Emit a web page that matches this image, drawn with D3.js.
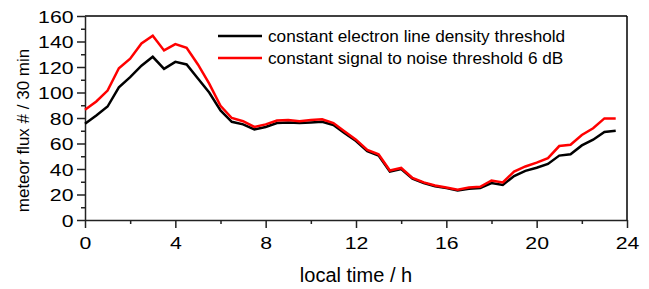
<!DOCTYPE html>
<html><head><meta charset="utf-8">
<script src="https://cdn.jsdelivr.net/npm/d3@7"></script>
<style>
html,body{margin:0;padding:0;background:#fff;}
text{font-family:"Liberation Sans",Arial,sans-serif;fill:#000;}
</style></head>
<body>
<svg id="c" width="649" height="289"></svg>
<script>
const hours = [0,0.5,1,1.5,2,2.5,3,3.5,4,4.5,5,5.5,6,6.5,7,7.5,8,8.5,9,9.5,10,10.5,11,11.5,12,12.5,13,13.5,14,14.5,15,15.5,16,16.5,17,17.5,18,18.5,19,19.5,20,20.5,21,21.5,22,22.5,23,23.5];
const electronDensity = [75.5,82,89,104,112,121,128,118.5,124,122,111,100,86,77,75,71,73,76,76.5,76,76.5,77,74.5,68,62,54,50.5,38,40,32.5,29,26.5,25,23.2,24.5,25,29,27.5,34.5,38.5,41,44,50.5,51.5,58.5,63,69,70];
const signalNoise = [86.5,93,101.5,119,126.5,138.5,144.5,133,138,135,122,107,89.5,80,77.5,73,75,78,78.5,77.5,78.5,79,76,69.5,63,55,51.5,38.8,40.8,33,29.5,27,25.5,23.8,25.4,26,31,29.5,38,42,45,48.5,58,59,66.7,72,79.7,79.7];
const seriesNames = ["constant electron line density threshold","constant signal to noise threshold 6 dB"];
const xTicks = [0,4,8,12,16,20,24];
const xMinor = [2,6,10,14,18,22];
const yTicks = [0,20,40,60,80,100,120,140,160];
const yMinor = [10,30,50,70,90,110,130,150];
const xTitle = "local time / h";
const yTitle = "meteor flux # / 30 min";

const svg = d3.select("#c");
const L=85,R=627,T=16,B=220;
const x = d3.scaleLinear().domain([0,24]).range([L,R]);
const y = d3.scaleLinear().domain([0,160]).range([B,T]);
const sx = 1.25;

// frame top/right
svg.append("line").attr("x1",L).attr("x2",R).attr("y1",T).attr("y2",T).attr("stroke","#000").attr("stroke-width",1.5);
svg.append("line").attr("x1",R).attr("x2",R).attr("y1",T).attr("y2",B).attr("stroke","#000").attr("stroke-width",1.5);

// minor ticks
svg.append("g").attr("transform",`translate(0,${B})`)
  .call(d3.axisBottom(x).tickValues(xMinor).tickSize(4).tickFormat("").tickSizeOuter(0))
  .call(g=>{g.select(".domain").remove();g.selectAll("line").attr("stroke","#222").attr("stroke-width",1.5);});
svg.append("g").attr("transform",`translate(${L},0)`)
  .call(d3.axisLeft(y).tickValues(yMinor).tickSize(4).tickFormat("").tickSizeOuter(0))
  .call(g=>{g.select(".domain").remove();g.selectAll("line").attr("stroke","#222").attr("stroke-width",1.5);});

// major axes
svg.append("g").attr("transform",`translate(0,${B})`)
  .call(d3.axisBottom(x).tickValues(xTicks).tickSize(8).tickSizeOuter(0).tickFormat(d3.format("d")))
  .call(g=>{
    g.select(".domain").attr("stroke","#222").attr("stroke-width",1.5);
    g.selectAll("line").attr("stroke","#222").attr("stroke-width",1.5);
    g.selectAll("text").attr("y",29).attr("dy",0).attr("font-size",17)
      .attr("transform",`scale(${sx},1)`).style("font-family",'"Liberation Sans",Arial,sans-serif').attr("fill","#000");
  });
svg.append("g").attr("transform",`translate(${L},0)`)
  .call(d3.axisLeft(y).tickValues(yTicks).tickSize(8).tickSizeOuter(0).tickFormat(d3.format("d")))
  .call(g=>{
    g.select(".domain").attr("stroke","#222").attr("stroke-width",1.5);
    g.selectAll("line").attr("stroke","#222").attr("stroke-width",1.5);
    g.selectAll("text").attr("x",-11.5/sx).attr("dy","0.36em").attr("font-size",17)
      .attr("transform",`scale(${sx},1)`).style("font-family",'"Liberation Sans",Arial,sans-serif').attr("fill","#000");
  });

// lines
const line = vals => d3.line().x((d,i)=>x(hours[i])).y(d=>y(d))(vals);
const colors = ["#000000","#ff0000"];
[electronDensity, signalNoise].forEach((vals,k)=>{
  svg.append("path").attr("d",line(vals)).attr("fill","none")
    .attr("stroke",colors[k]).attr("stroke-width",2.5).attr("stroke-linejoin","miter");
});

// legend
seriesNames.forEach((name,k)=>{
  const yy = 36 + k*22;
  svg.append("line").attr("x1",218).attr("x2",262).attr("y1",yy).attr("y2",yy)
    .attr("stroke",colors[k]).attr("stroke-width",2.5);
  svg.append("text").attr("x",268).attr("y",yy+5.8).attr("font-size",17.2).text(name);
});

// axis titles
svg.append("text").attr("x",(L+R)/2).attr("y",282).attr("text-anchor","middle").attr("font-size",20).text(xTitle);
svg.append("text").attr("transform",`translate(28.5,${130.5}) rotate(-90)`).attr("text-anchor","middle").attr("font-size",17).text(yTitle);
</script>
</body></html>
